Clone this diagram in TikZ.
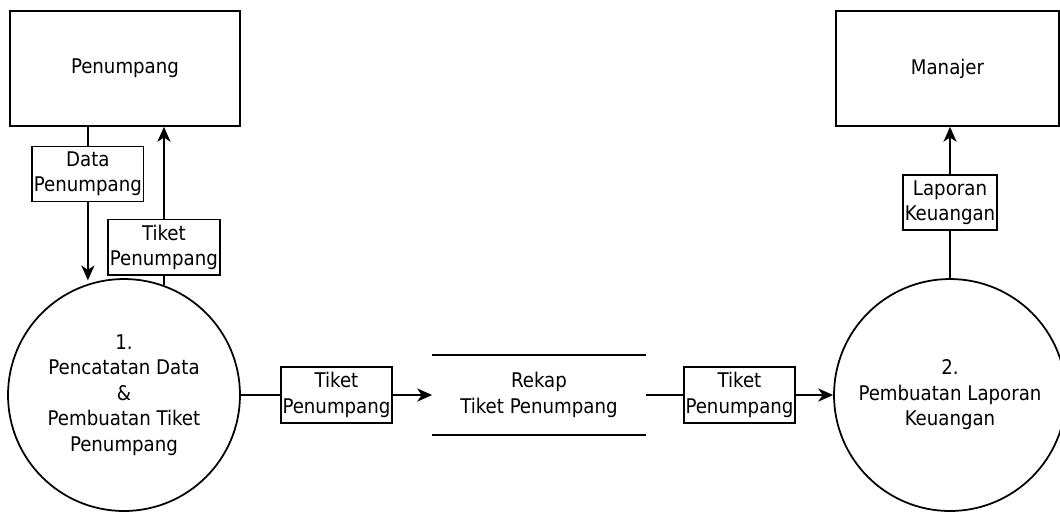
\documentclass[tikz,border=0pt]{standalone}
\usepackage{fontspec}
\setmainfont{DejaVu Sans Condensed}
\usetikzlibrary{arrows,arrows.meta,positioning}

\begin{document}
\begin{tikzpicture}[x=0.02cm,y=-0.02cm,line width=1pt,
			>={Stealth[length=8.5pt,width=7.5pt,inset=2.5pt]},
			font=\fontsize{11.5}{14.5}\selectfont,
			entity/.style={rectangle,draw,minimum width=4.6cm,minimum height=2.3cm},
			process/.style={circle,draw,minimum size=4.64cm,inner sep=0pt,align=center},
			store/.style={rectangle,minimum width=4.24cm,minimum height=1.56cm,align=center},
			flow/.style={rectangle,draw,fill=white,inner xsep=1pt,inner ysep=3pt,align=center}]
			
			\useasboundingbox (0,0) rectangle (1060,512);
			
			% external entities
			\node[entity] (pen) at (125,68.5) {Penumpang};
			\node[entity,minimum width=4.46cm] (man) at (947.5,68.5) {Manajer};
			
			% processes and data store
			\node[process] (p1) at (124,395) {1.\\Pencatatan Data\\\&\\Pembuatan Tiket\\Penumpang};
			\node[process] (p2) at (950,395) {2.\\Pembuatan Laporan\\Keuangan};
			\node[store] (rekap) at (539,395) {Rekap\\Tiket Penumpang};
			\draw (rekap.north west) -- (rekap.north east)
			(rekap.south west) -- (rekap.south east);
			
			% data flows
			\draw[->,shorten >=2pt] (pen.south -| p1.108) -- node[flow,pos=0.3] {Data\\Penumpang} (p1.108);
			\draw[->] (p1.70) -- node[flow,pos=0.24] {Tiket\\Penumpang} (p1.70 |- pen.south);
			\draw[->] (p1.east) -- node[flow] {Tiket\\Penumpang} (rekap.west);
			\draw[->] (rekap.east) -- node[flow] {Tiket\\Penumpang} (p2.west);
			\draw[->] (p2.north) -- node[flow] {Laporan\\Keuangan} (p2.north |- man.south);
			
		\end{tikzpicture}
\end{document}
